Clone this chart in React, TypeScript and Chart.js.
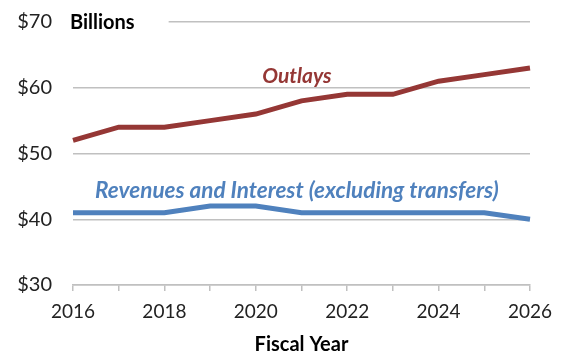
import React, { useEffect, useRef } from "react";
import { Chart, registerables } from "chart.js";

Chart.register(...registerables);

const years = ["2016", "2017", "2018", "2019", "2020", "2021", "2022", "2023", "2024", "2025", "2026"];
const outlays = [52, 54, 54, 55, 56, 58, 59, 59, 61, 62, 63];
const revenues = [41, 41, 41, 42, 42, 41, 41, 41, 41, 41, 40];
const yTicks = [30, 40, 50, 60, 70];

const FONT = "Lato, 'Open Sans', sans-serif";
const RED = "#953735";
const BLUE = "#4F81BD";
const GRID = "#C0C0C0";

const annotationPlugin = {
  id: "annotations",
  afterDraw(chart: any) {
    const { ctx, chartArea, scales } = chart;
    const x = scales.x;
    const y = scales.y;
    ctx.save();
    const yTop = y.getPixelForValue(70);
    ctx.font = `bold 20px ${FONT}`;
    const w = ctx.measureText("Billions").width;
    ctx.fillStyle = "#fff";
    ctx.fillRect(chartArea.left - 2, yTop - 4, w + 33, 8);
    ctx.fillStyle = "#000";
    ctx.textBaseline = "middle";
    ctx.textAlign = "left";
    ctx.fillText("Billions", chartArea.left - 3, yTop + 1);

    ctx.textAlign = "center";
    ctx.font = `italic bold 21px ${FONT}`;
    ctx.fillStyle = RED;
    ctx.fillText("Outlays", x.getPixelForValue(4.9), y.getPixelForValue(61.8));
    ctx.font = `italic bold 22.5px ${FONT}`;
    ctx.fillStyle = BLUE;
    ctx.fillText(
      "Revenues and Interest (excluding transfers)",
      x.getPixelForValue(4.9),
      y.getPixelForValue(44.4)
    );
    ctx.restore();
  },
};

export default function App() {
  const ref = useRef<HTMLCanvasElement>(null);
  useEffect(() => {
    document.body.style.margin = "0";
    const chart = new Chart(ref.current!, {
      type: "line",
      data: {
        labels: years,
        datasets: [
          {
            label: "Outlays",
            data: outlays,
            borderColor: RED,
            borderWidth: 5,
            pointRadius: 0,
            tension: 0,
          },
          {
            label: "Revenues and Interest (excluding transfers)",
            data: revenues,
            borderColor: BLUE,
            borderWidth: 5,
            pointRadius: 0,
            tension: 0,
          },
        ],
      },
      plugins: [annotationPlugin],
      options: {
        responsive: false,
        animation: false,
        layout: { autoPadding: false, padding: { left: 0, right: 46, top: 22, bottom: 0 } },
        plugins: { legend: { display: false }, tooltip: { enabled: false } },
        scales: {
          x: {
            offset: false,
            grid: {
              drawOnChartArea: false,
              drawTicks: true,
              tickLength: 6,
              color: GRID,
              lineWidth: 1.5,
            },
            border: { display: true, color: GRID, width: 1.5 },
            ticks: {
              autoSkip: false,
              maxRotation: 0,
              padding: 9,
              color: "#222",
              font: { family: FONT, size: 19 },
              callback: (_v: any, i: number) => (i % 2 === 0 ? years[i] : ""),
            },
            title: {
              display: true,
              text: "Fiscal Year",
              color: "#000",
              font: { family: FONT, size: 20, weight: "bold" },
              padding: { top: 0, bottom: 1 },
            },
            afterFit: (s: any) => {
              s.height = 73;
            },
          },
          y: {
            min: 30,
            max: 70,
            afterBuildTicks: (s: any) => {
              s.ticks = yTicks.map((v) => ({ value: v }));
            },
            grid: {
              drawTicks: true,
              tickLength: 21,
              tickColor: "rgba(0,0,0,0)",
              color: GRID,
              lineWidth: 1.5,
            },
            border: { display: false },
            ticks: {
              padding: 0,
              color: "#222",
              font: { family: FONT, size: 20 },
              callback: (v: any) => "$" + v,
            },
            afterFit: (s: any) => {
              s.width = 73;
            },
          },
        },
      },
    });
    return () => chart.destroy();
  }, []);
  return <canvas ref={ref} width={576} height={358} style={{ display: "block" }} />;
}
